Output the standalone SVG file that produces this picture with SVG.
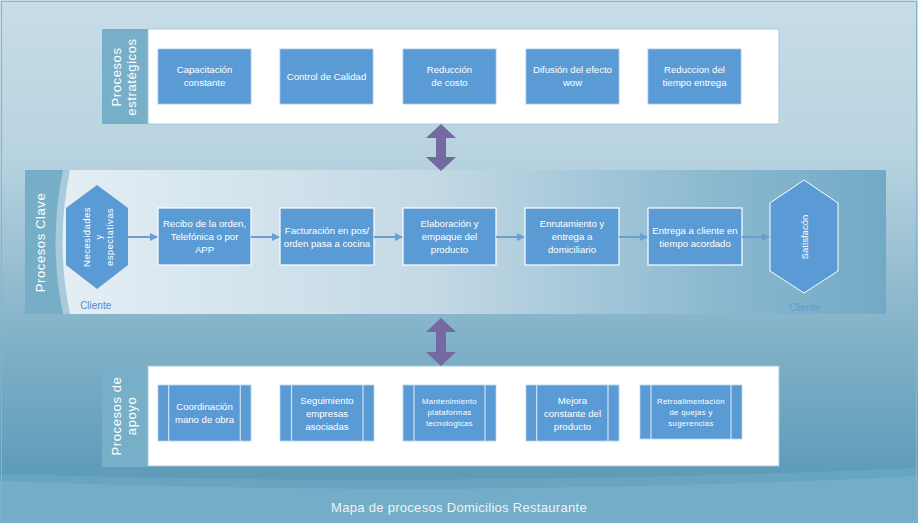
<svg xmlns="http://www.w3.org/2000/svg" width="918" height="523" viewBox="0 0 918 523">
<defs>
<linearGradient id="bg" x1="0" y1="0" x2="0" y2="1">
<stop offset="0" stop-color="#c7dde8"/>
<stop offset="0.3" stop-color="#b8d3e0"/>
<stop offset="0.62" stop-color="#86b4ca"/>
<stop offset="0.9" stop-color="#5e9cba"/>
</linearGradient>
<linearGradient id="band" x1="0" y1="0" x2="1" y2="0">
<stop offset="0" stop-color="#e4eef4"/>
<stop offset="0.45" stop-color="#c3d9e5"/>
<stop offset="0.8" stop-color="#8ab8cf"/>
<stop offset="1" stop-color="#72aac6"/>
</linearGradient>
<marker id="ah" markerWidth="8" markerHeight="8" refX="7" refY="4" orient="auto" markerUnits="userSpaceOnUse">
<path d="M0,0 L8,4 L0,8 Z" fill="#6a9fd3"/>
</marker>
<style>
.box{fill:#5b9bd5;stroke:#a7c9e8;stroke-width:0.8}
.mbox{fill:#5b9bd5;stroke:#ffffff;stroke-width:1.2}
.sbox{fill:#5b9bd5;stroke:#b6d2ec;stroke-width:0.8}
.bar{stroke:#cfe1f2;stroke-width:1.2}
.t{font-family:"Liberation Sans",Arial,sans-serif;fill:#ffffff;font-size:9.6px;text-anchor:middle}
.ts{font-family:"Liberation Sans",Arial,sans-serif;fill:#ffffff;font-size:7.8px;letter-spacing:0.3px;text-anchor:middle}
.lab{font-family:"Liberation Sans",Arial,sans-serif;fill:#ffffff;font-size:13px;letter-spacing:0.6px;text-anchor:middle}
.strip{fill:#77aec8}
.panel{fill:#ffffff;stroke:#a5c9db;stroke-width:1}
.flow{stroke:#6a9fd3;stroke-width:2;fill:none;marker-end:url(#ah)}
.dbl{fill:#7668a0}
.cli{font-family:"Liberation Sans",Arial,sans-serif;font-size:10px;text-anchor:middle}
</style>
</defs>

<g id="background">
<rect x="0" y="0" width="918" height="523" fill="url(#bg)"/>
<path d="M0,474 Q459,488 918,468 L918,523 L0,523 Z" fill="#68a5c1"/>
<path d="M0,481 Q459,499 918,476 L918,523 L0,523 Z" fill="#74adc8"/>
<rect x="1.5" y="1.5" width="915" height="520" fill="none" stroke="#86b4cb" stroke-width="1"/>
<text x="459" y="512" font-family="'Liberation Sans',Arial,sans-serif" font-size="13" fill="#eef4f7" text-anchor="middle" letter-spacing="0.3">Mapa de procesos Domicilios Restaurante</text>
</g>

<g id="lane-estrategicos">
<rect class="strip" x="102" y="29" width="46" height="95"/>
<rect class="panel" x="148" y="29" width="631" height="95"/>
<text class="lab" transform="translate(121,77) rotate(-90)">Procesos</text>
<text class="lab" transform="translate(136,77) rotate(-90)">estratégicos</text>
</g>

<g id="lane-clave">
<rect x="25" y="170" width="861" height="144" fill="#76adc7"/>
<path d="M63,170 Q48,242 63,314 L886,314 L886,170 Z" fill="#a8cadb"/>
<path d="M70,170 Q55,242 70,314 L886,314 L886,170 Z" fill="url(#band)"/>
<text class="lab" font-size="13.5" transform="translate(45,242.5) rotate(-90)">Procesos Clave</text>
</g>

<g id="lane-apoyo">
<rect class="strip" x="102" y="366" width="46" height="101" fill="#79b0c9"/>
<rect class="panel" x="148" y="366" width="631" height="100"/>
<text class="lab" transform="translate(121,416) rotate(-90)">Procesos de</text>
<text class="lab" transform="translate(136,416) rotate(-90)">apoyo</text>
</g>

<g id="e1"><rect class="box" x="158" y="49" width="93" height="55"/><text class="t" x="204.5" y="73">Capacitación</text><text class="t" x="204.5" y="86">constante</text></g>
<g id="e2"><rect class="box" x="280" y="49" width="93" height="55"/><text class="t" x="326.5" y="80">Control de Calidad</text></g>
<g id="e3"><rect class="box" x="403" y="49" width="93" height="55"/><text class="t" x="449.5" y="73">Reducción</text><text class="t" x="449.5" y="86">de costo</text></g>
<g id="e4"><rect class="box" x="526" y="49" width="93" height="55"/><text class="t" x="572.5" y="73">Difusión del efecto</text><text class="t" x="572.5" y="86">wow</text></g>
<g id="e5"><rect class="box" x="648" y="49" width="93" height="55"/><text class="t" x="694.5" y="73">Reduccion del</text><text class="t" x="694.5" y="86">tiempo entrega</text></g>

<g id="necesidades">
<polygon points="97,185 128,208 128,265 97,289 66,265 66,208" fill="#5b9bd5"/>
<text class="t" font-size="9px" letter-spacing="0.4" transform="translate(90,237) rotate(-90)">Necesidades</text>
<text class="t" font-size="9px" transform="translate(101.5,237) rotate(-90)">y</text>
<text class="t" font-size="9px" letter-spacing="0.4" transform="translate(113,237) rotate(-90)">espectativas</text>
<text class="cli" x="95.7" y="309" fill="#4f8fd1">Cliente</text>
</g>

<g id="k1"><rect class="mbox" x="158" y="208" width="93" height="57"/><text class="t" x="204.5" y="227">Recibo de la orden,</text><text class="t" x="204.5" y="240">Telefónica o por</text><text class="t" x="204.5" y="253">APP</text></g>
<g id="k2"><rect class="mbox" x="280" y="208" width="94" height="57"/><text class="t" x="327" y="233.5">Facturación en pos/</text><text class="t" x="327" y="246.5">orden pasa a cocina</text></g>
<g id="k3"><rect class="mbox" x="403" y="208" width="93" height="57"/><text class="t" x="449.5" y="227">Elaboración y</text><text class="t" x="449.5" y="240">empaque del</text><text class="t" x="449.5" y="253">producto</text></g>
<g id="k4"><rect class="mbox" x="525" y="208" width="94" height="57"/><text class="t" x="572" y="227">Enrutamiento y</text><text class="t" x="572" y="240">entrega a</text><text class="t" x="572" y="253">domiciliario</text></g>
<g id="k5"><rect class="mbox" x="648" y="208" width="94" height="57"/><text class="t" x="695" y="233.5">Entrega a cliente en</text><text class="t" x="695" y="246.5">tiempo acordado</text></g>

<g id="satisfaccion">
<polygon points="804,180 838,203 838,271 804,293 770,271 770,203" fill="#5b9bd5" stroke="#ffffff" stroke-width="1"/>
<text class="t" font-size="10px" transform="translate(808,237) rotate(-90)">Satisfacón</text>
<text class="cli" x="804.7" y="311" fill="#5b9bd5">Cliente</text>
</g>

<g id="s1"><rect class="sbox" x="158" y="385" width="93" height="56"/><line class="bar" x1="168.7" y1="385" x2="168.7" y2="441"/><line class="bar" x1="240.3" y1="385" x2="240.3" y2="441"/><text class="t" font-size="9.5px" x="204.5" y="409.5">Coordinación</text><text class="t" font-size="9.5px" x="204.5" y="422.5">mano de obra</text></g>
<g id="s2"><rect class="sbox" x="280" y="385" width="94" height="56"/><line class="bar" x1="291.5" y1="385" x2="291.5" y2="441"/><line class="bar" x1="363" y1="385" x2="363" y2="441"/><text class="t" font-size="9.5px" x="327" y="403.5">Seguimiento</text><text class="t" font-size="9.5px" x="327" y="416.5">empresas</text><text class="t" font-size="9.5px" x="327" y="429.5">asociadas</text></g>
<g id="s3"><rect class="sbox" x="403" y="385" width="93" height="56"/><line class="bar" x1="414" y1="385" x2="414" y2="441"/><line class="bar" x1="485" y1="385" x2="485" y2="441"/><text class="ts" x="449.5" y="404">Mantenimiento</text><text class="ts" x="449.5" y="415">plataformas</text><text class="ts" x="449.5" y="426">tecnologicas</text></g>
<g id="s4"><rect class="sbox" x="526" y="385" width="93" height="56"/><line class="bar" x1="536.7" y1="385" x2="536.7" y2="441"/><line class="bar" x1="608" y1="385" x2="608" y2="441"/><text class="t" font-size="9.8px" x="572.5" y="404">Mejora</text><text class="t" font-size="9.8px" x="572.5" y="417">constante del</text><text class="t" font-size="9.8px" x="572.5" y="430">producto</text></g>
<g id="s5"><rect class="sbox" x="640" y="385" width="102" height="54"/><line class="bar" x1="651" y1="385" x2="651" y2="439"/><line class="bar" x1="731" y1="385" x2="731" y2="439"/><text class="ts" x="691" y="404">Retroalimentación</text><text class="ts" x="691" y="415">de quejas y</text><text class="ts" x="691" y="426">sugerencias</text></g>

<g id="connectors">
<polygon class="dbl" points="441,124 456,138 446,138 446,157 456,157 441,171 426,157 436,157 436,138 426,138"/>
<polygon class="dbl" points="441,318 456,332 446,332 446,352 456,352 441,366 426,352 436,352 436,332 426,332"/>
<line class="flow" x1="128" y1="237" x2="157" y2="237"/>
<line class="flow" x1="251" y1="237" x2="279" y2="237"/>
<line class="flow" x1="374" y1="237" x2="402" y2="237"/>
<line class="flow" x1="496" y1="237" x2="524" y2="237"/>
<line class="flow" x1="619" y1="237" x2="647" y2="237"/>
<line class="flow" x1="742" y1="237" x2="769" y2="237"/>
</g>
</svg>
